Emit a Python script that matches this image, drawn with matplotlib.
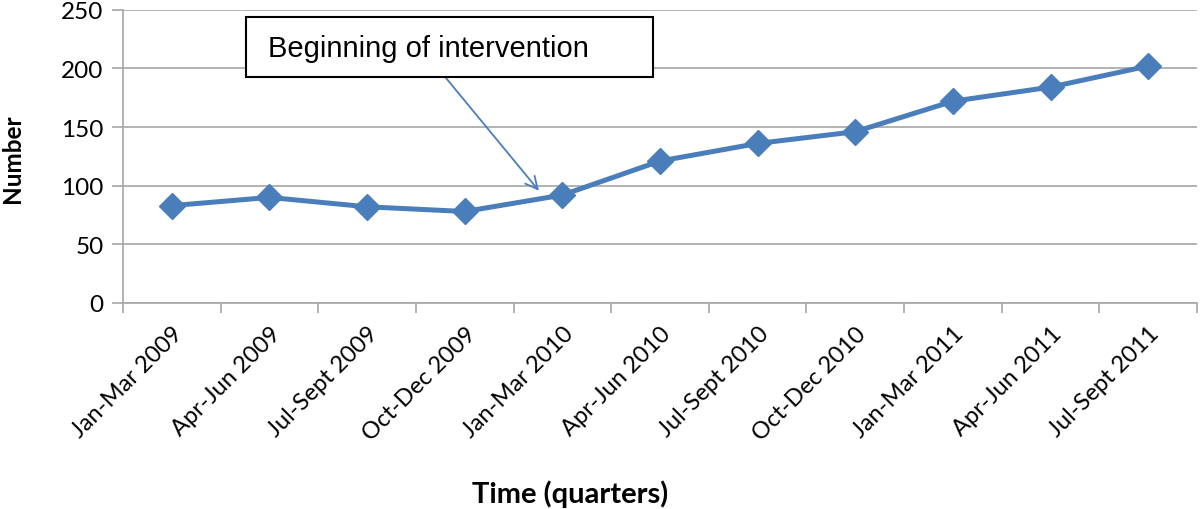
import matplotlib
matplotlib.use("Agg")
import matplotlib.pyplot as plt
from matplotlib.patches import Rectangle
from matplotlib.ticker import FixedLocator, NullFormatter

quarters = ["Jan-Mar 2009", "Apr-Jun 2009", "Jul-Sept 2009", "Oct-Dec 2009",
            "Jan-Mar 2010", "Apr-Jun 2010", "Jul-Sept 2010", "Oct-Dec 2010",
            "Jan-Mar 2011", "Apr-Jun 2011", "Jul-Sept 2011"]
numbers = [83, 90, 82, 78, 92, 121, 136, 146, 172, 184, 202]
y_ticks = [0, 50, 100, 150, 200, 250]
annotation_text = "Beginning of intervention"

plt.rcParams['font.family'] = ['Lato', 'DejaVu Sans']
line_color = "#4a7ebb"
grid_color = "#a6a6a6"

fig = plt.figure(figsize=(12, 5.1), dpi=100)
ax = fig.add_axes([123/1200, 1 - 304/510, (1197 - 123)/1200, (304 - 10.7)/510])

x = list(range(len(quarters)))
ax.plot(x, numbers, color=line_color, lw=3.6, marker='D', markersize=13.5,
        markerfacecolor=line_color, markeredgecolor=line_color, zorder=3)

ax.set_xlim(-0.5, len(quarters) - 0.5)
ax.set_ylim(0, 250)
ax.set_yticks(y_ticks)
ax.set_yticklabels([str(v) for v in y_ticks], fontsize=17.5)
ax.yaxis.grid(True, color=grid_color, lw=1.2)
ax.set_axisbelow(True)

ax.set_xticks(x)
ax.set_xticklabels(quarters, rotation=45, ha='right', rotation_mode='anchor', fontsize=17)
ax.tick_params(axis='x', which='major', length=0, pad=14)
ax.xaxis.set_minor_locator(FixedLocator([i - 0.5 for i in range(len(quarters) + 1)]))
ax.xaxis.set_minor_formatter(NullFormatter())
ax.tick_params(axis='x', which='minor', length=7, color=grid_color, width=1.2)
ax.tick_params(axis='y', length=8, color=grid_color, width=1.2, pad=6)

for s in ['top', 'right']:
    ax.spines[s].set_visible(False)
for s in ['left', 'bottom']:
    ax.spines[s].set_color(grid_color)
    ax.spines[s].set_linewidth(1.2)

# annotation box
ax.add_patch(Rectangle((0.76, 192.6), 4.17, 51.2, facecolor='white',
                       edgecolor='black', lw=1.5, zorder=5, clip_on=False))
ax.text(0.99, 210.8, annotation_text, fontsize=21, family=['Liberation Sans'],
        va='baseline', ha='left', zorder=6)
ax.annotate("", xy=(3.76, 95.7), xytext=(2.80, 192.6),
            arrowprops=dict(arrowstyle='->', color=line_color, lw=1.3,
                            mutation_scale=22, shrinkA=0, shrinkB=0), zorder=4)

fig.text(12.5/1200, 1 - 159/510, "Number", rotation=90, fontsize=17.5,
         fontweight='bold', ha='center', va='center')
fig.text(570/1200, 1 - 494/510, "Time (quarters)", fontsize=21,
         fontweight='bold', ha='center', va='center')

fig.savefig("out.png", dpi=100)
